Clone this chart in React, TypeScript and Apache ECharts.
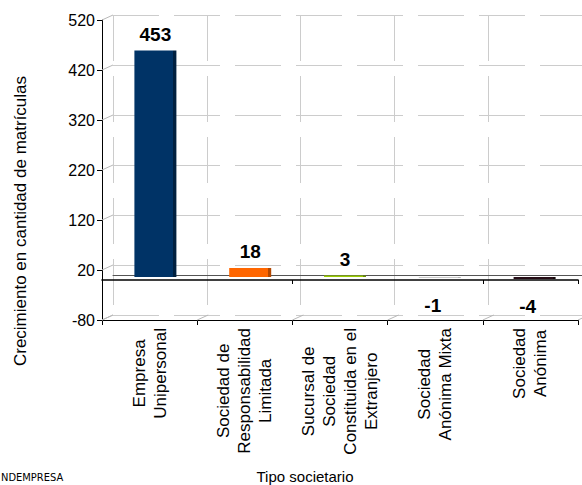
import React, { useEffect, useRef } from "react";
import * as echarts from "echarts";

const categories = [
  "Empresa\nUnipersonal",
  "Sociedad de\nResponsabilidad\nLimitada",
  "Sucursal de\nSociedad\nConstituida en el\nExtranjero",
  "Sociedad\nAnónima Mixta",
  "Sociedad\nAnónima",
];
const values = [453, 18, 3, -1, -4];
const barColors = ["#003366", "#ff6600", "#99cc00", "#999999", "#260c16"];
const barSideColors = ["#00203f", "#b34700", "#6b8f00", "#6b6b6b", "#12060a"];
const yMin = -80;
const yMax = 520;
const yStep = 100;
const yName = "Crecimiento en cantidad de matrículas";
const xName = "Tipo societario";
const sourceText = "NDEMPRESA";

const FONT = "Liberation Sans, Arial, sans-serif";
const DEPTH_X = 11;
const DEPTH_Y = -5;

export default function App() {
  const ref = useRef<HTMLDivElement>(null);
  useEffect(() => {
    if (!ref.current) return;
    const chart = echarts.init(ref.current, undefined, { renderer: "svg" });
    const dashed = { color: "#cccccc", width: 1, type: [46, 15] as any };
    const yTickValues: number[] = [];
    for (let v = yMin; v <= yMax; v += yStep) yTickValues.push(v);
    const boundaryIdx = categories.map((_, i) => i).concat([categories.length]);

    const option: any = {
      animation: false,
      textStyle: { fontFamily: FONT, color: "#000" },
      grid: [
        { left: 102, top: 20, width: 476, height: 300 },
        { left: 113, top: 15, width: 476, height: 300 },
        { left: 108, top: 17, width: 476, height: 300 },
      ],
      xAxis: [
        {
          gridIndex: 0,
          type: "category",
          data: categories,
          position: "bottom",
          axisLine: { onZero: false, lineStyle: { color: "#000", width: 1 } },
          axisTick: { show: true, length: 5, lineStyle: { color: "#000" } },
          axisLabel: {
            interval: 0,
            rotate: 90,
            margin: 8,
            formatter: (v: string) =>
              v
                .split("\n")
                .map((l) => `{c|${l}}`)
                .join("\n"),
            rich: {
              c: {
                align: "center",
                fontSize: 17,
                lineHeight: 21,
                fontFamily: FONT,
                color: "#000",
              },
            },
          },
          splitLine: { show: false },
        },
        {
          gridIndex: 0,
          type: "category",
          data: categories,
          position: "bottom",
          axisLine: { onZero: true, lineStyle: { color: "#000", width: 1.6 } },
          axisTick: { show: true, length: 4, lineStyle: { color: "#000" } },
          axisLabel: { show: false },
          splitLine: { show: false },
        },
        {
          gridIndex: 1,
          type: "category",
          data: categories,
          axisLine: { onZero: true, lineStyle: { color: "#555", width: 1 } },
          axisTick: { show: false },
          axisLabel: { show: false },
          splitLine: { show: true, interval: 0, lineStyle: dashed },
        },
        {
          gridIndex: 2,
          type: "category",
          data: categories,
          show: false,
        },
      ],
      yAxis: [
        {
          gridIndex: 0,
          type: "value",
          min: yMin,
          max: yMax,
          interval: yStep,
          axisLine: { show: true, lineStyle: { color: "#000", width: 1 } },
          axisTick: { show: true, length: 5, lineStyle: { color: "#000" } },
          axisLabel: { fontSize: 16, margin: 7, color: "#000", fontFamily: FONT },
          splitLine: { show: false },
        },
        {
          gridIndex: 1,
          type: "value",
          min: yMin,
          max: yMax,
          interval: yStep,
          axisLine: { show: false },
          axisTick: { show: false },
          axisLabel: { show: false },
          splitLine: { show: true, lineStyle: dashed },
        },
        {
          gridIndex: 2,
          type: "value",
          min: yMin,
          max: yMax,
          interval: yStep,
          show: false,
          splitLine: { show: false },
        },
      ],
      series: [
        {
          type: "custom",
          xAxisIndex: 0,
          yAxisIndex: 0,
          silent: true,
          clip: false,
          data: yTickValues.map((v) => [0, v]),
          renderItem: (params: any, api: any) => {
            const cs = params.coordSys;
            const y = api.coord([0, api.value(1)])[1];
            return {
              type: "line",
              shape: { x1: cs.x, y1: y, x2: cs.x + DEPTH_X, y2: y + DEPTH_Y },
              style: { stroke: "#b8b8b8", lineWidth: 1 },
            };
          },
        },
        {
          type: "custom",
          xAxisIndex: 0,
          yAxisIndex: 0,
          silent: true,
          clip: false,
          data: boundaryIdx.map((i) => [i, yMin]),
          renderItem: (params: any, api: any) => {
            const cs = params.coordSys;
            const x = cs.x + (api.value(0) * cs.width) / categories.length;
            const y = api.coord([0, api.value(1)])[1];
            return {
              type: "line",
              shape: { x1: x, y1: y, x2: x + DEPTH_X, y2: y + DEPTH_Y },
              style: { stroke: "#b8b8b8", lineWidth: 1 },
            };
          },
        },
        {
          type: "bar",
          xAxisIndex: 3,
          yAxisIndex: 2,
          barWidth: 42,
          data: values.map((v, i) => ({
            value: v,
            itemStyle: {
              color: new echarts.graphic.LinearGradient(0, 0, 1, 0, [
                { offset: 0, color: barColors[i] },
                { offset: 0.93, color: barColors[i] },
                { offset: 0.93, color: barSideColors[i] },
                { offset: 1, color: barSideColors[i] },
              ]),
            },
            label:
              v < 0
                ? { position: "bottom", distance: 18, offset: [-7, 0] }
                : { position: "top", distance: 7 },
          })),
          label: {
            show: true,
            fontSize: 19,
            fontWeight: "bold",
            color: "#000",
            fontFamily: FONT,
          },
        },
      ],
      graphic: [
        {
          type: "text",
          x: 20,
          y: 221,
          rotation: Math.PI / 2,
          style: {
            text: yName,
            fontSize: 17,
            fontFamily: FONT,
            fill: "#000",
            align: "center",
            verticalAlign: "middle",
          },
        },
        {
          type: "text",
          x: 305,
          y: 476,
          style: {
            text: xName,
            fontSize: 15,
            fontFamily: FONT,
            fill: "#000",
            align: "center",
            verticalAlign: "middle",
          },
        },
        {
          type: "text",
          x: 1,
          y: 477,
          style: {
            text: sourceText,
            fontSize: 11,
            fontFamily: "Liberation Sans Narrow, DejaVu Sans Condensed, sans-serif",
            fill: "#000",
            align: "left",
            verticalAlign: "middle",
          },
        },
      ],
    };
    chart.setOption(option);
    return () => chart.dispose();
  }, []);
  return (
    <div
      ref={ref}
      style={{ position: "fixed", left: 0, top: 0, width: 582, height: 485, background: "#fff" }}
    />
  );
}
